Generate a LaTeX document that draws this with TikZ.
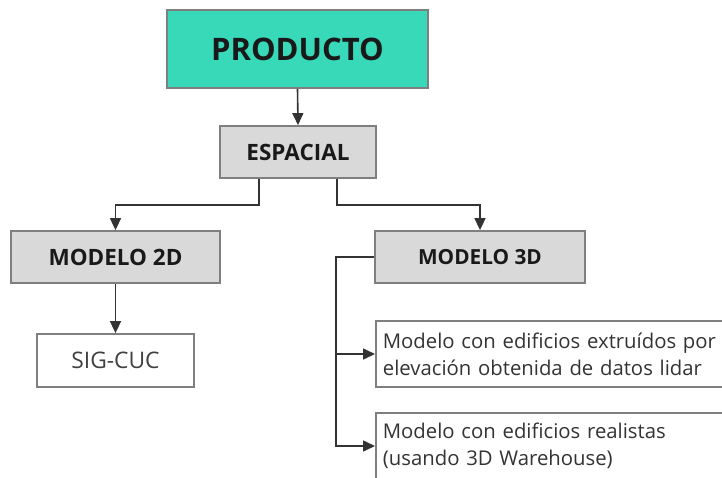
\documentclass[tikz,border=0pt]{standalone}
\usepackage{fontspec}
\setmainfont{Open Sans}
\usetikzlibrary{arrows.meta,calc}
\definecolor{teal}{HTML}{38D9B9}
\definecolor{boxgray}{HTML}{D9D9D9}
\definecolor{edgegray}{HTML}{7F7F7F}
\definecolor{linegray}{HTML}{333333}
\begin{document}
\begin{tikzpicture}[x=1pt,y=-1pt,
  box/.style={draw=edgegray,line width=1.8pt,rectangle,inner sep=0pt},
  head/.style={box,fill=boxgray,text=black!90,font=\fontsize{22.5}{26}\selectfont\bfseries},
  leaf/.style={box,fill=white,text=black!80,font=\fontsize{20.3}{27}\selectfont,align=left,anchor=west,text width=338pt},
  conn/.style={draw=linegray,line width=1.6pt},
  arr/.style={conn,-{Triangle[length=12pt,width=11pt]}}]
\useasboundingbox (0,0) rectangle (722,477);
\fill[white] (0,0) rectangle (722,477);
\node[box,fill=teal,text=black!90,minimum width=261pt,minimum height=78pt,font=\fontsize{31}{36}\selectfont\bfseries] (prod) at (297.5,49) {PRODUCTO};
\node[head,minimum width=156pt,minimum height=52pt] (esp) at (298,152) {ESPACIAL};
\node[head,minimum width=209pt,minimum height=52pt] (m2d) at (115.5,257) {MODELO 2D};
\node[box,fill=white,minimum width=157pt,minimum height=53pt,font=\fontsize{22.8}{26}\selectfont,text=black!75] (sig) at (115.5,360.5) {SIG-CUC};
\node[head,minimum width=210pt,minimum height=52pt,font=\fontsize{20.8}{24}\selectfont\bfseries] (m3d) at (480,257) {MODELO 3D};
\node[leaf,minimum width=346pt,minimum height=66pt,inner xsep=7pt] (b1) at (375,354) {Modelo con edificios extruídos por\\elevación obtenida de datos lidar};
\node[leaf,minimum width=346pt,minimum height=66pt,inner xsep=7pt] (b2) at (375,446) {Modelo con edificios realistas\\(usando 3D Warehouse)};
\draw[arr] (prod.south) -- (esp.north);
\draw[arr] ([xshift=-39pt]esp.south) -- ++(0,26) -| (m2d.north);
\draw[arr] ([xshift=39pt]esp.south) -- ++(0,26) -| (m3d.north);
\draw[arr] (m2d.south) -- (sig.north);
\coordinate (bus) at ([xshift=-38pt]m3d.west);
\draw[arr] (m3d.west) -- (bus) |- (b2.west);
\draw[arr] (bus |- b1.west) -- (b1.west);
\end{tikzpicture}
\end{document}
